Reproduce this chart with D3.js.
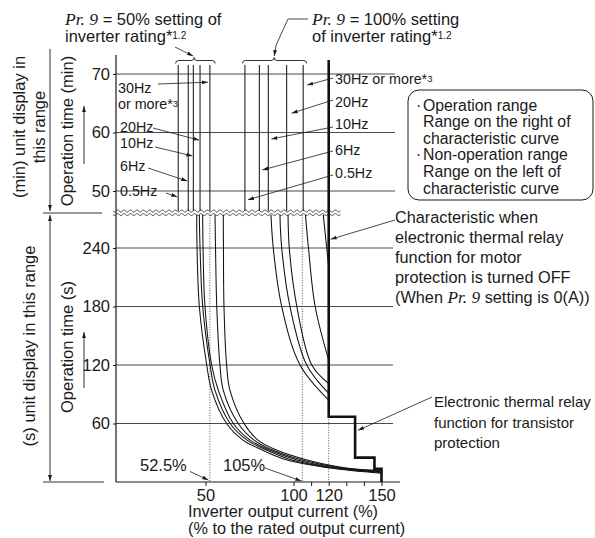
<!DOCTYPE html>
<html><head><meta charset="utf-8">
<script src="https://cdn.jsdelivr.net/npm/d3@7"></script>
<style>
body{margin:0;background:#fff}
text{font-family:"Liberation Sans",Arial,Helvetica,sans-serif;fill:#1a1a1a}
.it{font-family:"Liberation Serif","Times New Roman",serif;font-style:italic}
</style>
</head><body>
<svg id="c" width="595" height="538"></svg>
<script>
// ---------------- data ----------------
const freqLabels = ["0.5Hz","6Hz","10Hz","20Hz","30Hz"];
const minTicks = [50,60,70];
const secTicks = [60,120,180,240];
const xTickValues = [50,100,110,120,130,140,150];
const xTickLabels = [50,100,120,150];
// minute-range vertical lines (% current)
const upper50 = [34.5,40.2,43.1,46.9,52.5];
const upper100 = [72.4,80.6,85.7,96.1,105.5];
// second-range curves, Pr.9 = 50%  ([current %, seconds])
const c50_05 = [[45.0,274],[45.2,240],[46.5,180],[50.7,120],[53.5,94],[62.0,60],[71.3,43],[82.0,33],[96.3,22.6],[120.7,14.4],[150,9.0]];
const c50_6  = [[46.5,274],[46.9,240],[48.4,180],[52.6,120],[55.4,94],[64.0,60],[73.6,43],[84.4,33],[99.1,22.6],[123.0,14.4],[150,9.8]];
const c50_10 = [[48.4,274],[48.6,240],[49.7,180],[53.5,120],[57.3,94],[65.8,60],[75.3,43],[86.0,33],[102.0,22.6],[125.3,14.4],[150,10.5]];
const c50_20 = [[55.4,274],[55.7,240],[56.4,180],[58.2,120],[60.1,94],[68.6,60],[77.6,43],[87.8,33],[104.8,22.6],[127.6,14.4],[150,11.3]];
const c50_30 = [[60.1,274],[60.2,240],[60.5,180],[62.0,120],[63.9,94],[71.9,60],[79.8,43],[90.0,33],[107.7,22.6],[130.0,14.4],[150,12.0]];
// second-range curves, Pr.9 = 100%
const c100_05 = [[87.2,274],[88.5,240],[93.3,180],[103.7,120],[120,84]];
const c100_6  = [[92.3,274],[93.3,240],[98.0,180],[107.5,120],[120,91]];
const c100_10 = [[96.9,274],[97.6,240],[101.9,180],[110.4,120],[120,101]];
const c100_20 = [[106.8,274],[108.5,240],[112.3,180],[120,125]];
const c100_30 = [[116.9,274],[120,221]];
// transistor protection step (thick)
const stepPct = [120,135,146,150];
const stepSec = [67,25,13.5,0];
const dottedPct = [52.5,105];

// ---------------- layout ----------------
const svg = d3.select("#c");
const x = d3.scaleLinear().domain([0,150]).range([117.5,381.5]);
const yMin = d3.scaleLinear().domain([50,70]).range([191,74]);
const ySec = d3.scaleLinear().domain([0,240]).range([482,248]);
const axisX = 116, axisTop = 55, gridRight = 395, baseRight = 400;
const minTop = 71.55, minBreak = 46.6, thickTop = 72.4, secTop = 274;
const ink = "#1a1a1a";

const defs = svg.append("defs");
defs.append("marker").attr("id","ah").attr("viewBox","0 0 10 10")
  .attr("refX",10).attr("refY",5).attr("markerWidth",6).attr("markerHeight",6)
  .attr("markerUnits","userSpaceOnUse").attr("orient","auto")
  .append("path").attr("d","M0,1.8L10,5L0,8.2Z").attr("fill",ink);
defs.append("marker").attr("id","ahs").attr("viewBox","0 0 10 10")
  .attr("refX",10).attr("refY",5).attr("markerWidth",6).attr("markerHeight",6)
  .attr("markerUnits","userSpaceOnUse").attr("orient","auto-start-reverse")
  .append("path").attr("d","M0,1.8L10,5L0,8.2Z").attr("fill",ink);

function arrow(x1,y1,x2,y2,w=0.8){
  svg.append("line").attr("x1",x1).attr("y1",y1).attr("x2",x2).attr("y2",y2)
    .attr("stroke",ink).attr("stroke-width",w).attr("marker-end","url(#ah)");
}
// multi-line text block as one text element
function block(x0, y0, step, strs, size){
  const t = svg.append("text").attr("x",x0).attr("y",y0).attr("font-size",size);
  strs.forEach((s,i)=>{
    t.append("tspan").attr("x",x0).attr("dy",i===0?0:step).text(s);
  });
  return t;
}
function lines(x0, baselines, strs, size, anchor="start"){
  strs.forEach((s,i)=>{
    svg.append("text").attr("x",x0).attr("y",baselines[i]).attr("font-size",size)
      .attr("text-anchor",anchor).text(s);
  });
}

// grid lines
svg.append("g").selectAll("line").data(minTicks).join("line")
  .attr("x1",axisX).attr("x2",gridRight).attr("y1",d=>yMin(d)).attr("y2",d=>yMin(d))
  .attr("stroke","#4a4a4a").attr("stroke-width",1);
svg.append("g").selectAll("line").data(secTicks).join("line")
  .attr("x1",axisX).attr("x2",gridRight-2).attr("y1",d=>ySec(d)).attr("y2",d=>ySec(d))
  .attr("stroke","#4a4a4a").attr("stroke-width",1);

// y axes (ticks + labels)
function styleAxis(g,size){
  g.select(".domain").remove();
  g.selectAll(".tick line").attr("stroke",ink);
  g.selectAll(".tick text").attr("font-size",size).attr("fill",ink)
   .attr("font-family","Liberation Sans, Arial, sans-serif");
}
svg.append("g").attr("transform",`translate(${axisX},0)`)
  .call(d3.axisLeft(yMin).tickValues(minTicks).tickSize(3).tickPadding(3))
  .call(g=>styleAxis(g,16.5));
svg.append("g").attr("transform",`translate(${axisX},0)`)
  .call(d3.axisLeft(ySec).tickValues(secTicks).tickSize(3).tickPadding(3))
  .call(g=>styleAxis(g,16.5));
// x axis
svg.append("g").attr("transform",`translate(0,${ySec(0)})`)
  .call(d3.axisBottom(x).tickValues(xTickValues).tickSize(4).tickPadding(3)
        .tickFormat(d=>xTickLabels.includes(d)?d:""))
  .call(g=>styleAxis(g,16.5));
// axis lines
svg.append("line").attr("x1",axisX).attr("x2",axisX).attr("y1",axisTop).attr("y2",ySec(0)).attr("stroke",ink).attr("stroke-width",1.2);
svg.append("line").attr("x1",axisX).attr("x2",baseRight).attr("y1",ySec(0)).attr("y2",ySec(0)).attr("stroke",ink).attr("stroke-width",1.2);

// break (wavy lines)
[211,214.6].forEach(y0=>{
  const pts = d3.range(113,341,0.5).map(xx=>[xx, y0+1.0*Math.sin((xx-113)/6.4*2*Math.PI)]);
  svg.append("path").attr("d",d3.line()(pts)).attr("fill","none").attr("stroke","#333").attr("stroke-width",0.9);
});

// upper vertical lines (minutes range)
svg.append("g").selectAll("line").data(upper50.concat(upper100)).join("line")
  .attr("x1",d=>x(d)).attr("x2",d=>x(d)).attr("y1",yMin(minTop)).attr("y2",yMin(minBreak))
  .attr("stroke","#222").attr("stroke-width",1.1);

// dotted lines
svg.append("g").selectAll("line").data(dottedPct).join("line")
  .attr("x1",d=>x(d)).attr("x2",d=>x(d)).attr("y1",ySec(secTop)).attr("y2",ySec(0))
  .attr("stroke","#222").attr("stroke-width",0.8).attr("stroke-dasharray","1,1.6");
svg.append("line").attr("x1",x(stepPct[0])).attr("x2",x(stepPct[0]))
  .attr("y1",ySec(stepSec[0])).attr("y2",ySec(0))
  .attr("stroke","#222").attr("stroke-width",0.8).attr("stroke-dasharray","1,1.6");

// curves
const lineGen = d3.line().x(d=>x(d[0])).y(d=>ySec(d[1])).curve(d3.curveCatmullRom.alpha(0.5));
svg.append("g").selectAll("path")
  .data([c50_05,c50_6,c50_10,c50_20,c50_30,c100_05,c100_6,c100_10,c100_20,c100_30]).join("path")
  .attr("d",lineGen).attr("fill","none").attr("stroke","#111").attr("stroke-width",1.05);

// thick characteristic + step
let sp = `M${x(stepPct[0])},${yMin(thickTop)}V${ySec(stepSec[0])}`;
for(let i=1;i<stepPct.length;i++){ sp += `H${x(stepPct[i])}V${ySec(stepSec[i])}`; }
svg.append("path").attr("d",sp).attr("fill","none").attr("stroke","#111").attr("stroke-width",2.6).attr("stroke-linejoin","miter");

// braces
function brace(p0,p1,tipPct,y){
  const a=x(p0), b=x(p1), t=x(tipPct);
  const d=`M${a},${y+3}Q${a},${y} ${a+3},${y}L${t-3},${y}Q${t},${y} ${t},${y-3}Q${t},${y} ${t+3},${y}L${b-3},${y}Q${b},${y} ${b},${y+3}`;
  svg.append("path").attr("d",d).attr("fill","none").attr("stroke",ink).attr("stroke-width",0.9);
}
brace(33,55.5,43.5,60.5);
brace(71,107.5,89,60.5);

// top annotations
function prText(x0,y0,rest){
  const t = svg.append("text").attr("x",x0).attr("y",y0).attr("font-size",16.5);
  t.append("tspan").attr("class","it").attr("font-size",17.5).text("Pr. 9");
  t.append("tspan").text(rest);
}
prText(65,24.5," = 50% setting of");
{
  const t = svg.append("text").attr("x",65).attr("y",42).attr("font-size",16.5);
  t.append("tspan").text("inverter rating*");
  t.append("tspan").attr("font-size",10).attr("dy",-3).text("1.2");
}
prText(312,24.5," = 100% setting");
{
  const t = svg.append("text").attr("x",312).attr("y",42).attr("font-size",16.5);
  t.append("tspan").text("of inverter rating*");
  t.append("tspan").attr("font-size",10).attr("dy",-3).text("1.2");
}
arrow(175,47,x(43.5)-1,56);
svg.append("path").attr("d",`M308,19H288L${x(89)+2},45`).attr("fill","none").attr("stroke",ink).attr("stroke-width",0.8);
arrow(x(89)+2,45,x(89),56);

// left Hz labels (Pr.9 = 50%)
const hzL = 14.3;
{
  const t = svg.append("text").attr("x",118).attr("y",93).attr("font-size",hzL);
  t.append("tspan").attr("x",118).text("30Hz");
  t.append("tspan").attr("x",118).attr("dy",15.5).text("or more*");
  t.append("tspan").attr("font-size",9.5).attr("dy",-2).text("3");
}
lines(120,[131.5,148,171,195.5],["20Hz","10Hz","6Hz","0.5Hz"],hzL);
arrow(158,84, x(upper50[4])-2, yMin(68.6));
arrow(153,128, x(upper50[3])-1, yMin(58.7));
arrow(155,147, x(upper50[2])-1, yMin(56.0));
arrow(148,168, x(upper50[1])-1, yMin(51.7));
arrow(166,193, x(upper50[0])-1, yMin(49.0));

// right Hz labels (Pr.9 = 100%)
{
  const t = svg.append("text").attr("x",335).attr("y",84).attr("font-size",hzL);
  t.append("tspan").text("30Hz or more*");
  t.append("tspan").attr("font-size",9.5).attr("dy",-2).text("3");
}
lines(335,[107,128.5,155,178],["20Hz","10Hz","6Hz","0.5Hz"],hzL);
arrow(333,78, x(upper100[4])+4, yMin(68.1));
arrow(333,100, x(upper100[3])+5, yMin(63.3));
arrow(333,127, x(upper100[2])+3, yMin(58.9));
arrow(333,151, x(upper100[1])+3, yMin(53.6));
arrow(333,175, x(upper100[0])+3, yMin(48.5));

// legend box
svg.append("rect").attr("x",408).attr("y",90).attr("width",185).attr("height",110).attr("rx",11)
  .attr("fill","none").attr("stroke",ink).attr("stroke-width",1);
{
  const t = svg.append("text").attr("x",416).attr("y",110.5).attr("font-size",15.8);
  const L = [["· ","Operation range"],[null,"Range on the right of"],[null,"characteristic curve"],
             ["· ","Non-operation range"],[null,"Range on the left of"],[null,"characteristic curve"]];
  L.forEach((l,i)=>{
    const ts = t.append("tspan").attr("x",l[0]?416:423).attr("dy",i===0?0:16.6);
    if(l[0]) { ts.text("·"); t.append("tspan").attr("x",423).text(l[1]); }
    else ts.text(l[1]);
  });
}

// right annotations
{
  const t = block(395,222.5,20,["Characteristic when","electronic thermal relay","function for motor","protection is turned OFF"],16.3);
  t.append("tspan").attr("x",395).attr("dy",20).text("(When ");
  t.append("tspan").attr("class","it").attr("font-size",17.3).text("Pr. 9");
  t.append("tspan").text(" setting is 0(A))");
}
arrow(395,220, x(120)+2, ySec(249));
block(434,407,20.7,["Electronic thermal relay","function for transistor","protection"],15);
arrow(432,397, x(135)+3, ySec(53));

// 52.5% / 105%
lines(140,[471],["52.5%"],16.5);
lines(223,[471],["105%"],16.5);
arrow(190,471.5, x(52.5)-1.5, ySec(2));
arrow(265,468, x(105)-1, ySec(1));

// x axis titles
block(188,517,16.5,["Inverter output current (%)","(% to the rated output current)"],16.3);

// left side titles (rotated)
function vtext(cx,cy,s,size){
  svg.append("text").attr("transform",`translate(${cx},${cy}) rotate(-90)`)
    .attr("text-anchor","middle").attr("dy","0.35em").attr("font-size",size).text(s);
}
vtext(19,127,"(min) unit display in",16.5);
vtext(39.5,127,"this range",16.5);
vtext(67.5,131,"Operation time (min)",16.5);
vtext(29,346,"(s) unit display in this range",16.5);
vtext(67,347,"Operation time (s)",16.5);

// small up arrows
arrow(84,164,84,106,0.9);
arrow(84,388,84,332,0.9);
// range arrows
svg.append("line").attr("x1",50).attr("x2",50).attr("y1",49).attr("y2",211).attr("stroke",ink).attr("stroke-width",0.9).attr("marker-end","url(#ah)");
svg.append("line").attr("x1",50).attr("x2",50).attr("y1",215).attr("y2",481).attr("stroke",ink).attr("stroke-width",0.9)
  .attr("marker-end","url(#ah)").attr("marker-start","url(#ahs)");
svg.append("line").attr("x1",43).attr("x2",102).attr("y1",213).attr("y2",213).attr("stroke",ink).attr("stroke-width",0.9);
svg.append("line").attr("x1",43).attr("x2",104).attr("y1",482).attr("y2",482).attr("stroke",ink).attr("stroke-width",0.9);
</script>
</body></html>
